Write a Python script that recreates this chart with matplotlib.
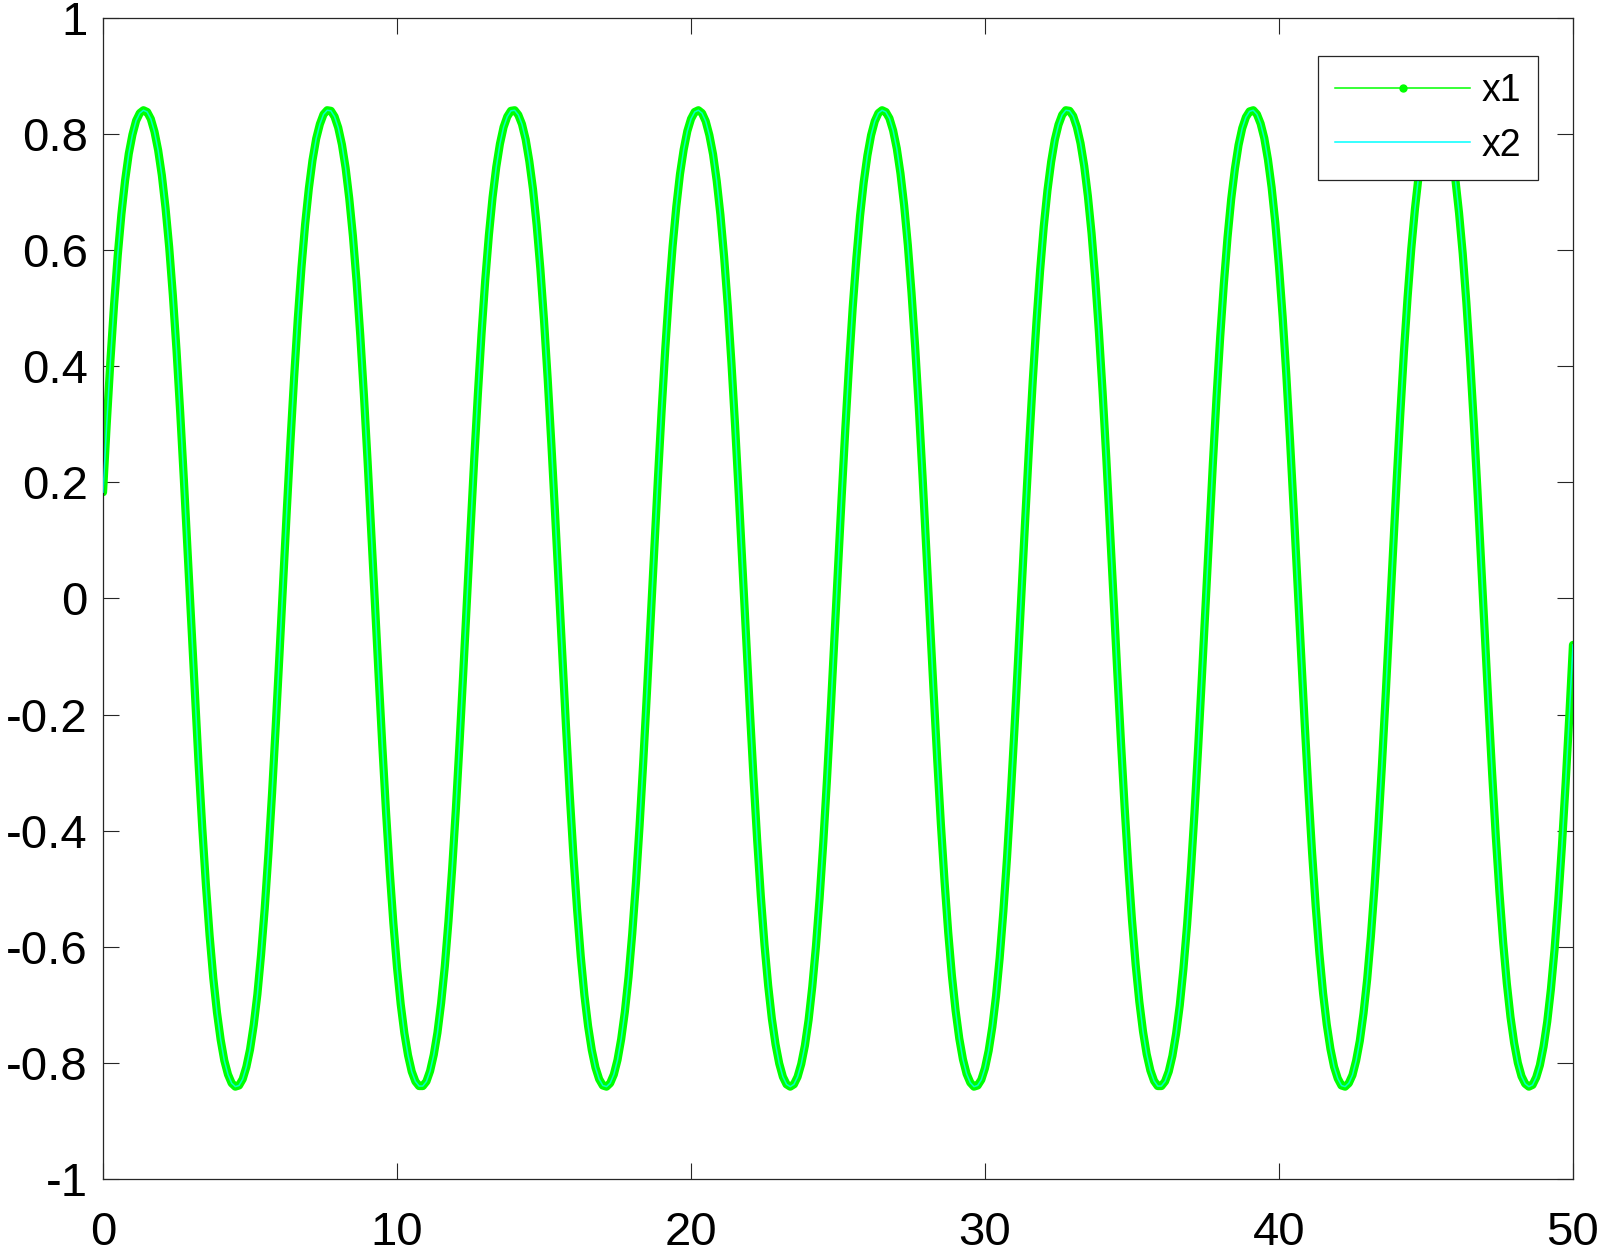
import numpy as np
import matplotlib
matplotlib.use("Agg")
import matplotlib.pyplot as plt
from matplotlib.lines import Line2D

plt.rcParams['font.family'] = ['Liberation Sans', 'DejaVu Sans']
plt.rcParams['axes.unicode_minus'] = False

# values, x from 0 to 50 in steps of 0.125
y_vals = [
    0.183, 0.300, 0.409, 0.506, 0.591, 0.662, 0.720, 0.766, 0.799, 0.823, 0.836, 0.841,
    0.838, 0.826, 0.804, 0.772, 0.729, 0.673, 0.605, 0.522, 0.427, 0.320, 0.204, 0.081,
    -0.043, -0.167, -0.285, -0.395, -0.494, -0.581, -0.654, -0.713, -0.760, -0.796, -0.820, -0.835,
    -0.841, -0.839, -0.828, -0.807, -0.777, -0.735, -0.682, -0.614, -0.534, -0.440, -0.335, -0.219, -0.098,
    0.027, 0.151, 0.270, 0.381, 0.482, 0.570, 0.645, 0.706, 0.755, 0.792, 0.817, 0.834,
    0.841, 0.840, 0.830, 0.811, 0.782, 0.742, 0.689, 0.624, 0.545, 0.453, 0.349, 0.235, 0.114,
    -0.010, -0.134, -0.254, -0.367, -0.469, -0.559, -0.636, -0.699, -0.749, -0.787, -0.815, -0.832, -0.840,
    -0.840, -0.832, -0.814, -0.786, -0.748, -0.697, -0.634, -0.556, -0.466, -0.364, -0.251, -0.131, -0.006,
    0.118, 0.239, 0.352, 0.456, 0.548, 0.626, 0.691, 0.743, 0.783, 0.812, 0.830, 0.840,
    0.841, 0.833, 0.817, 0.791, 0.753, 0.705, 0.643, 0.568, 0.479, 0.378, 0.266, 0.147, 0.023,
    -0.102, -0.223, -0.338, -0.443, -0.536, -0.617, -0.684, -0.737, -0.778, -0.808, -0.828, -0.839,
    -0.841, -0.835, -0.820, -0.795, -0.759, -0.712, -0.652, -0.578, -0.491, -0.392, -0.282, -0.163, -0.040,
    0.085, 0.207, 0.323, 0.430, 0.525, 0.607, 0.675, 0.731, 0.773, 0.805, 0.826, 0.838,
    0.841, 0.836, 0.822, 0.798, 0.765, 0.719, 0.661, 0.589, 0.504, 0.406, 0.297, 0.179, 0.056,
    -0.069, -0.191, -0.308, -0.416, -0.513, -0.597, -0.667, -0.724, -0.768, -0.801, -0.824, -0.837,
    -0.841, -0.837, -0.824, -0.802, -0.770, -0.726, -0.669, -0.599, -0.516, -0.420, -0.312, -0.195, -0.073,
    0.052, 0.175, 0.293, 0.402, 0.501, 0.586, 0.659, 0.717, 0.763, 0.798, 0.822, 0.836,
    0.841, 0.838, 0.827, 0.806, 0.775, 0.732, 0.677, 0.609, 0.527, 0.433, 0.327, 0.211, 0.089,
    -0.036, -0.159, -0.278, -0.389, -0.488, -0.576, -0.650, -0.710, -0.758, -0.794, -0.819, -0.834,
    -0.841, -0.839, -0.829, -0.809, -0.779, -0.738, -0.685, -0.619, -0.539, -0.446, -0.341, -0.227, -0.106,
    0.019, 0.143, 0.263, 0.375, 0.476, 0.565, 0.641, 0.703, 0.752, 0.790, 0.816, 0.833,
    0.841, 0.840, 0.831, 0.812, 0.784, 0.745, 0.693, 0.629, 0.550, 0.459, 0.356, 0.243, 0.122,
    -0.002, -0.127, -0.247, -0.360, -0.463, -0.554, -0.631, -0.695, -0.746, -0.785, -0.813, -0.831, -0.840,
    -0.840, -0.832, -0.815, -0.788, -0.750, -0.701, -0.638, -0.562, -0.472, -0.370, -0.258, -0.138, -0.014,
    0.110, 0.231, 0.346, 0.450, 0.542, 0.622, 0.688, 0.740, 0.781, 0.810, 0.829, 0.839,
    0.841, 0.834, 0.818, 0.793, 0.756, 0.708, 0.647, 0.572, 0.485, 0.385, 0.273, 0.154, 0.031,
    -0.094, -0.216, -0.331, -0.437, -0.531, -0.612, -0.680, -0.734, -0.776, -0.807, -0.827, -0.839,
    -0.841, -0.835, -0.821, -0.796, -0.762, -0.715, -0.656, -0.583, -0.497, -0.398, -0.289, -0.171, -0.047,
    0.078, 0.200, 0.316, 0.424, 0.519, 0.602, 0.671, 0.728, 0.771, 0.803, 0.825, 0.838,
    0.841, 0.837, 0.823, 0.800, 0.767, 0.722, 0.664, 0.594, 0.509, 0.412, 0.304, 0.187, 0.064,
    -0.061, -0.184, -0.301, -0.410, -0.507, -0.592, -0.663, -0.721, -0.766, -0.800, -0.823, -0.836,
    -0.841, -0.838, -0.825, -0.804, -0.772, -0.729, -0.673, -0.604, -0.521, -0.426, -0.319, -0.203, -0.080,
]
x_start, x_end = 0, 50
labels = ['x1', 'x2']
x_ticks = [0, 10, 20, 30, 40, 50]
y_ticks = [-1, -0.8, -0.6, -0.4, -0.2, 0, 0.2, 0.4, 0.6, 0.8, 1]
y_ticklabels = ['-1', '-0.8', '-0.6', '-0.4', '-0.2', '0', '0.2', '0.4', '0.6', '0.8', '1']

x_vals = np.linspace(x_start, x_end, len(y_vals))

fig = plt.figure(figsize=(16, 12.55), dpi=100)
ax = fig.add_axes([0.0644, 0.0606, 0.9187, 0.9251])

# x1 (dense dots) shows as a thick green band, x2 is the thin cyan line on top
ax.plot(x_vals, y_vals, color='#00ff00', lw=5.9, solid_capstyle='round',
        solid_joinstyle='round', zorder=2)
ax.plot(x_vals, y_vals, color='#00ffff', lw=1.1, alpha=0.8,
        solid_joinstyle='round', zorder=3)

ax.set_xlim(x_start, x_end)
ax.set_ylim(-1, 1)
ax.set_xticks(x_ticks)
ax.set_xticklabels([str(t) for t in x_ticks])
ax.set_yticks(y_ticks)
ax.set_yticklabels(y_ticklabels)
ax.tick_params(direction='in', length=11.5, width=0.8, colors='#262626',
               labelcolor='black', labelsize=34, top=True, right=True)
ax.tick_params(axis='y', pad=11)
ax.tick_params(axis='x', pad=23)
for sp in ax.spines.values():
    sp.set_color('#262626')
    sp.set_linewidth(0.9)

handles = [
    Line2D([], [], color='#00ff00', lw=1.1, marker='o', markersize=5),
    Line2D([], [], color='#00ffff', lw=1.1),
]
leg = ax.legend(handles, labels, loc='upper right', bbox_to_anchor=(0.9762, 0.9673),
                borderaxespad=0, fontsize=27, handlelength=3.6, handletextpad=0.3,
                borderpad=0.45, labelspacing=0.5, fancybox=False, framealpha=1,
                edgecolor='#262626', numpoints=1)
leg.get_frame().set_linewidth(0.9)

fig.savefig('out.png', dpi=100)
